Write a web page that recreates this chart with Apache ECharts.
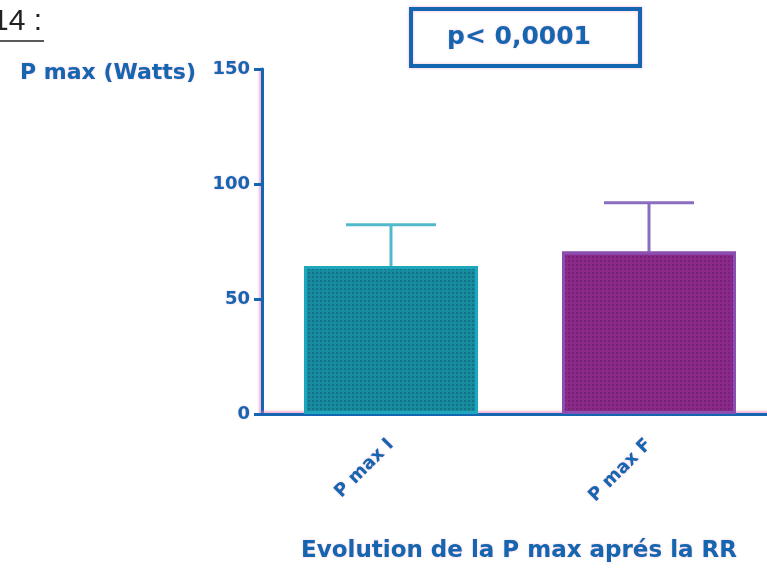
<!DOCTYPE html>
<html><head><meta charset="utf-8">
<script src="https://cdn.jsdelivr.net/npm/echarts@6/dist/echarts.min.js"></script>
<style>html,body{margin:0;padding:0;background:#fff}#c{width:767px;height:569px}</style>
</head><body><div id="c"></div>
<script>
const categories = ['P max I', 'P max F'];
const means = [64.3, 70.6];
const errorTops = [82.3, 91.8];
const yTicks = [0, 50, 100, 150];
const barColors = ['#178ba0', '#8c2a8c'];
const errColors = ['#52b9cc', '#8a6cc0'];

const blue = '#1466b0';
const pinkShadow = 'rgba(235,120,180,0.55)';
const FF = '"DejaVu Sans"';
const chart = echarts.init(document.getElementById('c'));

chart.setOption({
  animation: false,
  grid: { left: 262, width: 516, top: 69, bottom: 155, containLabel: false, outerBoundsMode: 'none' },
  xAxis: {
    type: 'category', data: categories,
    axisLine: { lineStyle: { color: blue, width: 3, shadowColor: pinkShadow, shadowBlur: 2, shadowOffsetY: -2 } },
    axisTick: { alignWithLabel: true, length: 9, lineStyle: { color: blue, width: 3 } },
    axisLabel: { rotate: 45, color: blue, fontWeight: 'bold', fontSize: 18, fontFamily: 'DejaVu Sans', margin: 28,
      textShadowColor: pinkShadow, textShadowBlur: 2 }
  },
  yAxis: {
    type: 'value', min: 0, max: 150, interval: 50,
    splitLine: { show: false },
    axisLine: { show: true, lineStyle: { color: blue, width: 3, shadowColor: pinkShadow, shadowBlur: 2, shadowOffsetX: -2 } },
    axisTick: { show: true, length: 8, lineStyle: { color: blue, width: 3 } },
    axisLabel: { color: blue, fontWeight: 'bold', fontSize: 18, fontFamily: 'DejaVu Sans', margin: 12,
      textShadowColor: pinkShadow, textShadowBlur: 2,
      formatter: v => yTicks.includes(v) ? String(v) : '' }
  },
  series: [
    {
      type: 'bar', barWidth: 174, z: 2,
      data: means.map((v, i) => ({
        value: v,
        itemStyle: {
          color: barColors[i],
          borderColor: i === 0 ? '#1ea6bd' : '#8a4fb0',
          borderWidth: 3,
          decal: { symbol: 'rect', symbolSize: 1, color: 'rgba(0,0,0,0.18)', dashArrayX: [2, 2], dashArrayY: [2, 2], rotation: 0 }
        }
      }))
    },
    {
      type: 'custom', z: 1,
      data: means.map((v, i) => [i, v, errorTops[i]]),
      renderItem: (params, api) => {
        const i = api.value(0);
        const base = api.coord([i, api.value(1)]);
        const top = api.coord([i, api.value(2)]);
        const hw = 45;
        const st = { stroke: errColors[i], lineWidth: 3 };
        return { type: 'group', children: [
          { type: 'line', shape: { x1: base[0], y1: base[1], x2: top[0], y2: top[1] }, style: st },
          { type: 'line', shape: { x1: top[0] - hw, y1: top[1], x2: top[0] + hw, y2: top[1] }, style: st }
        ]};
      }
    }
  ],
  graphic: [
    { type: 'text', x: -8, y: 37, style: { text: '14 :', fill: '#222', font: '30px "Liberation Sans"', textVerticalAlign: 'bottom' } },
    { type: 'line', shape: { x1: 0, y1: 41, x2: 44, y2: 41 }, style: { stroke: '#222', lineWidth: 1.5 } },
    { type: 'rect', shape: { x: 411, y: 9, width: 229, height: 57 }, style: { fill: '#fff', stroke: blue, lineWidth: 4, shadowColor: pinkShadow, shadowBlur: 3 } },
    { type: 'text', x: 519, y: 37, style: { text: 'p< 0,0001', fill: blue, font: 'bold 25px ' + FF, textAlign: 'center', textVerticalAlign: 'middle', textShadowColor: pinkShadow, textShadowBlur: 2 } },
    { type: 'text', x: 196, y: 73, style: { text: 'P max (Watts)', fill: blue, font: 'bold 22px ' + FF, textAlign: 'right', textVerticalAlign: 'middle', textShadowColor: pinkShadow, textShadowBlur: 2 } },
    { type: 'text', x: 519, y: 551, style: { text: 'Evolution de la P max aprés la RR', fill: blue, font: 'bold 23px ' + FF, textAlign: 'center', textVerticalAlign: 'middle', textShadowColor: pinkShadow, textShadowBlur: 2 } }
  ]
});
</script></body></html>
